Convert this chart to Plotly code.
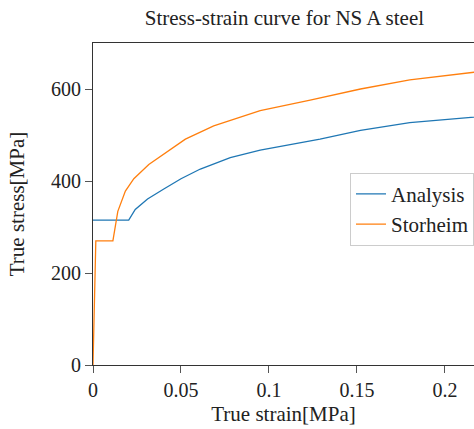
import plotly.graph_objects as go

# Measured true stress–strain data for NS A steel
analysis_strain = [0.0, 0.0203, 0.024, 0.031, 0.040, 0.050, 0.061, 0.078, 0.095, 0.129, 0.152, 0.180, 0.2165, 0.22]
analysis_stress = [315, 315, 338, 361, 382, 405, 426, 451, 467, 491, 510, 527, 539, 541]

storheim_strain = [0.0, 0.0016, 0.0113, 0.0141, 0.0184, 0.0232, 0.0317, 0.044, 0.0525, 0.0686, 0.095, 0.1234, 0.152, 0.180, 0.2165, 0.22]
storheim_stress = [0, 270, 270, 334, 378, 405, 436, 469, 491, 520, 553, 576, 600, 620, 636, 638]

x_ticks = [0, 0.05, 0.1, 0.15, 0.2]
x_tick_labels = ["0", "0.05", "0.1", "0.15", "0.2"]
y_ticks = [0, 200, 400, 600]

FONT = "Liberation Serif, Times New Roman, serif"

fig = go.Figure()
fig.add_trace(go.Scatter(x=analysis_strain, y=analysis_stress, mode="lines",
                         name="Analysis", line=dict(color="#1f77b4", width=1.3)))
fig.add_trace(go.Scatter(x=storheim_strain, y=storheim_stress, mode="lines",
                         name="Storheim", line=dict(color="#ff7f0e", width=1.3)))

axis_common = dict(showgrid=False, zeroline=False, showline=True, mirror=True,
                   linecolor="#333333", linewidth=1, ticks="outside", ticklen=7,
                   tickcolor="#555555", tickfont=dict(size=20, color="#222222"))

fig.update_layout(
    width=474, height=429,
    margin=dict(l=93, r=0, t=43, b=64),
    paper_bgcolor="white", plot_bgcolor="white",
    font=dict(family=FONT, size=20, color="#222222"),
    title=dict(text="Stress-strain curve for NS A steel", x=0.6, xanchor="center",
               y=0.96, yanchor="middle", font=dict(size=21)),
    xaxis=dict(range=[0, 0.2165], tickvals=x_ticks, ticktext=x_tick_labels,
               title=dict(text="True strain[MPa]", font=dict(size=21), standoff=6),
               **axis_common),
    yaxis=dict(range=[0, 700], tickvals=y_ticks,
               title=dict(text="True stress[MPa]", font=dict(size=21), standoff=20),
               **axis_common),
    legend=dict(x=1.0, xanchor="right", y=0.597, yanchor="top",
                bordercolor="#cccccc", borderwidth=1, bgcolor="white",
                font=dict(size=21), tracegroupgap=0, itemwidth=30),
)

fig.write_html("out.html")
